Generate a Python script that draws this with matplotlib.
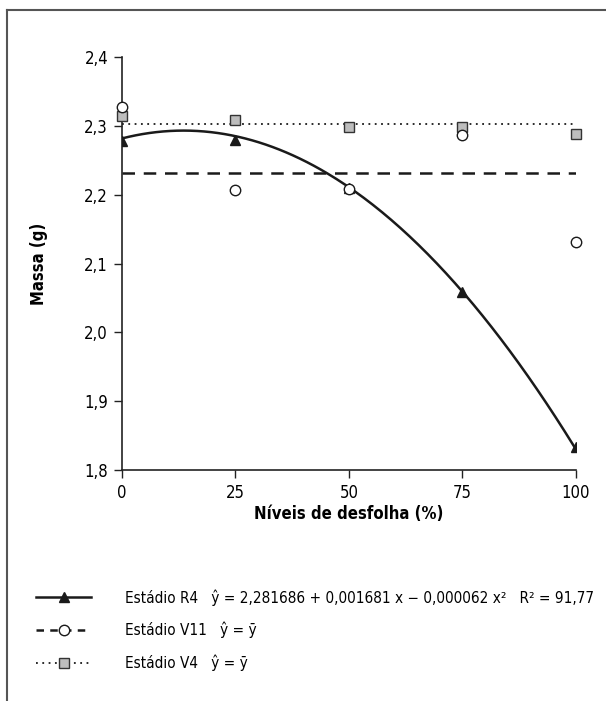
import numpy as np
import matplotlib
matplotlib.use("Agg")
import matplotlib.pyplot as plt
from matplotlib.lines import Line2D

plt.rcParams["font.family"] = ["DejaVu Sans"]
plt.rcParams["font.stretch"] = "condensed"

# Data
niveis = [0, 25, 50, 75, 100]
r4 = [2.278, 2.279, 2.210, 2.058, 1.834]
v11 = [2.327, 2.207, 2.208, 2.287, 2.131]
v4 = [2.315, 2.309, 2.299, 2.299, 2.288]
r4_coef = [2.281686, 0.001681, -0.000062]

fig = plt.figure(figsize=(6.06, 7.01), dpi=100)
ax = fig.add_axes([0.2013, 0.3295, 0.7492, 0.5892])

# fitted curve R4
xs = np.linspace(0, 100, 200)
ys = r4_coef[0] + r4_coef[1] * xs + r4_coef[2] * xs ** 2
ax.plot(xs, ys, color="#1a1a1a", lw=1.8, zorder=2)
ax.plot(niveis, r4, linestyle="none", marker="^", color="#1a1a1a",
        markersize=7, zorder=3)

# mean lines
ax.plot([0, 100], [np.mean(v11)] * 2, color="#1a1a1a", lw=1.8,
        dashes=(5, 3.5), zorder=2)
ax.plot([0, 100], [np.mean(v4)] * 2, color="#1a1a1a", lw=1.3,
        dashes=(1, 2.5), zorder=2)

ax.plot(niveis, v4, linestyle="none", marker="s", markerfacecolor="#bdbdbd",
        markeredgecolor="#333333", markersize=7, zorder=4, clip_on=False)
ax.plot(niveis, v11, linestyle="none", marker="o", markerfacecolor="white",
        markeredgecolor="#1a1a1a", markersize=7.5, zorder=5, clip_on=False)

ax.set_xlim(0, 100)
ax.set_ylim(1.8, 2.4)
ax.set_xticks(niveis)
ax.set_xticklabels(["0", "25", "50", "75", "100"])
yt = [1.8, 1.9, 2.0, 2.1, 2.2, 2.3, 2.4]
ax.set_yticks(yt)
ax.set_yticklabels([f"{v:.1f}".replace(".", ",") for v in yt])
ax.tick_params(labelsize=12, length=6, width=1, color="#222222", pad=4)
for s in ["top", "right"]:
    ax.spines[s].set_visible(False)
for s in ["left", "bottom"]:
    ax.spines[s].set_linewidth(1.2)
    ax.spines[s].set_color("#222222")
ax.set_xlabel("Níveis de desfolha (%)", fontsize=12, fontweight="bold",
              labelpad=2)
ax.set_ylabel("Massa (g)", fontsize=12, fontweight="bold", labelpad=26)

# legend
handles = [
    Line2D([], [], color="#1a1a1a", lw=1.8, marker="^", markersize=7),
    Line2D([], [], color="#1a1a1a", lw=1.8, dashes=(3, 2.5), marker="o",
           markerfacecolor="white", markersize=7.5),
    Line2D([], [], color="#1a1a1a", lw=1.3, dashes=(1, 2.5), marker="s",
           markerfacecolor="#bdbdbd", markeredgecolor="#333333", markersize=7),
]
labels = [
    "Estádio R4   ŷ = 2,281686 + 0,001681 x − 0,000062 x²   R² = 91,77",
    "Estádio V11   ŷ = ȳ",
    "Estádio V4   ŷ = ȳ",
]
fig.legend(handles, labels, loc="upper left", bbox_to_anchor=(0.05, 0.168),
           frameon=False, fontsize=11, handlelength=3.6, handletextpad=2.2,
           labelspacing=1.05, borderaxespad=0)

# frame around figure (top and left edge)
fig.add_artist(Line2D([7 / 606, 1.0], [1 - 10 / 701] * 2, color="#555555",
                      lw=1.5))
fig.add_artist(Line2D([7 / 606] * 2, [0, 1 - 10 / 701], color="#555555",
                      lw=1.5))

fig.savefig("out.png", dpi=100)
